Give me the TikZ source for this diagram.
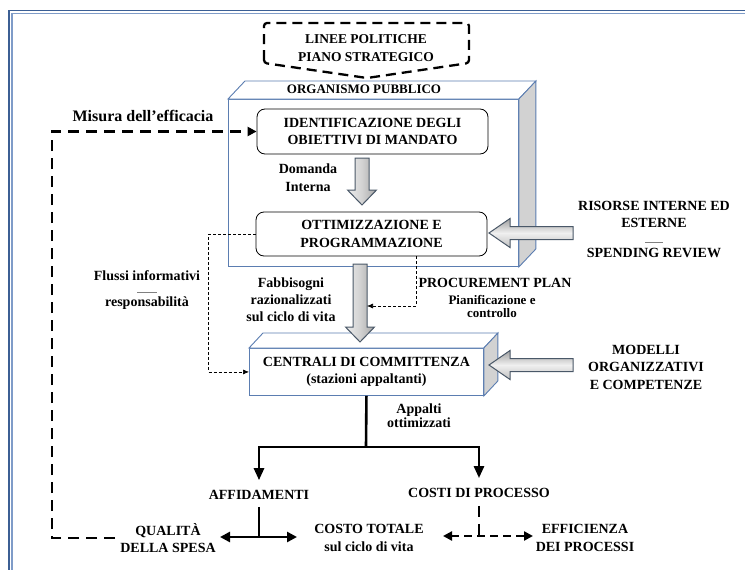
\documentclass[tikz,border=0pt]{standalone}
\usepackage{fontspec}
\setmainfont{Liberation Serif}
\usetikzlibrary{arrows.meta,calc}
\definecolor{frameblue}{HTML}{3C5F94}
\definecolor{framelight}{HTML}{7F9CC8}
\definecolor{boxblue}{HTML}{5B7DB1}
\definecolor{arrowedge}{HTML}{4A5868}
\definecolor{facegray}{HTML}{D2D2D2}
\newcommand\fatdown[2]{%
  \path[fatarr, left color=gray!15, right color=gray!70, middle color=gray!35]
    ($(#1)+(-7,0)$) -- ($(#1)+(7,0)$) -- ($(#2)+(7,-15)$) -- ($(#2)+(14.5,-15)$)
    -- (#2) -- ($(#2)+(-14.5,-15)$) -- ($(#2)+(-7,-15)$) -- cycle;}
\newcommand\fatleft[2]{%
  \path[fatarr, top color=gray!75, bottom color=gray!50, middle color=gray!12]
    ($(#1)+(0,-6.5)$) -- ($(#2)+(21,-6.5)$) -- ($(#2)+(21,-14.5)$) -- (#2)
    -- ($(#2)+(21,14.5)$) -- ($(#2)+(21,6.5)$) -- ($(#1)+(0,6.5)$) -- cycle;}
\begin{document}
\begin{tikzpicture}[x=1pt,y=-1pt,
  lbl/.style={font=\fontsize{14}{17.5}\selectfont\bfseries, align=center, inner sep=0pt},
  fatarr/.style={draw=arrowedge, line width=1pt, line join=miter},
  rbox/.style={draw=black, line width=0.8pt, rounded corners=8pt, fill=white, inner sep=0pt,
    minimum width=231pt, minimum height=45pt, lbl},
  cube/.style={draw=boxblue, line width=0.9pt, fill=white, inner sep=0pt},
  fb/.style={line width=2.4pt, dash pattern=on 11pt off 7pt},
  thindash/.style={line width=0.6pt, dash pattern=on 3pt off 2pt, -{Latex[length=6pt,width=5pt]}},
  tree/.style={line width=2.6pt}
  ]
\useasboundingbox (0,0) rectangle (745,570);
\fill[white] (0,0) rectangle (745,570);
% frame
\draw[frameblue, line width=1.1pt] (9,570) -- (9,10.5) -- (745,10.5);
\draw[framelight, line width=1.1pt] (12,570) -- (12,13.5) -- (745,13.5);

% top dashed box
\node[lbl, font=\fontsize{13.5}{18}\selectfont\bfseries] (linee) at (366,48) {LINEE POLITICHE\\PIANO STRATEGICO};
\draw[line width=2.3pt, dash pattern=on 10pt off 6pt, rounded corners=3pt]
  (264,63) -- (264,23) -- (469,23) -- (469,63) -- (367,78) -- cycle;

% organismo pubblico (3D box)
\node[cube, minimum width=290pt, minimum height=167pt, anchor=north west] (org) at (228,99) {};
\draw[cube] (org.north west) -- ++(17,-18) -- ($(org.north east)+(17,-18)$) -- (org.north east) -- cycle;
\draw[cube, fill=facegray] (org.north east) -- ++(17,-18) -- ($(org.south east)+(17,-18)$) -- (org.south east) -- cycle;
\node[lbl, font=\fontsize{13}{16}\selectfont\bfseries] (orgl) at (364,89) {ORGANISMO PUBBLICO};

\node[rbox] (ident) at (372.5,131.5) {IDENTIFICAZIONE DEGLI\\OBIETTIVI DI MANDATO};
\node[rbox, minimum height=44pt] (ottim) at (371.5,234) {OTTIMIZZAZIONE E\\PROGRAMMAZIONE};

\coordinate (a1s) at (362,158);
\coordinate (a1e) at (362,205);
\fatdown{a1s}{a1e}
\node[lbl] (dom) at (308,177.5) {Domanda\\Interna};

% centrali (3D box)
\node[cube, lbl, minimum width=234pt, minimum height=47pt, anchor=north west] (cent) at (249,348)
  {CENTRALI DI COMMITTENZA\\(stazioni appaltanti)};
\draw[cube] (cent.north west) -- ++(14,-15) -- ($(cent.north east)+(14,-15)$) -- (cent.north east) -- cycle;
\draw[cube, fill=facegray] (cent.north east) -- ++(14,-15) -- ($(cent.south east)+(14,-15)$) -- (cent.south east) -- cycle;

\coordinate (a2s) at (360,264);
\coordinate (a2e) at (360,342);
\fatdown{a2s}{a2e}

% right inputs
\coordinate (r1s) at (573,233);
\coordinate (r1e) at (489,233);
\fatleft{r1s}{r1e}
\coordinate (r2s) at (573,365);
\coordinate (r2e) at (489,365);
\fatleft{r2s}{r2e}

\node[lbl] (ris) at (654,214.5) {RISORSE INTERNE ED\\ESTERNE};
\node[lbl] (spend) at (654,253) {SPENDING REVIEW};
\draw[gray, line width=0.5pt] (645,242) -- (663,242);

\node[lbl] (mod) at (646,367) {MODELLI\\ORGANIZZATIVI\\E COMPETENZE};

% thin dashed flows
\draw[thindash] (ottim.west) -- ++(-47,0) |- (cent.west);
\coordinate (pf) at (367,306);
\draw[thindash] ($(ottim.south west)+(161,0)$) |- (pf);

\node[lbl] (flu) at (147,276) {Flussi informativi};
\draw[gray, line width=0.5pt] (137,292) -- (157,292);
\node[lbl] (resp) at (147,303) {responsabilità};

\node[lbl, font=\fontsize{14}{17}\selectfont\bfseries] (fab) at (291,300) {Fabbisogni\\razionalizzati\\sul ciclo di vita};
\node[lbl] (proc) at (495,283) {PROCUREMENT PLAN};
\node[lbl, font=\fontsize{13}{13}\selectfont\bfseries] (pian) at (492,306) {Pianificazione e\\controllo};

% misura dell'efficacia
\node[lbl, font=\fontsize{16}{19}\selectfont\bfseries] (mis) at (143,116) {Misura dell’efficacia};

% tree
\coordinate (tj) at (366,447);
\node[lbl] (affi) at (259,495) {AFFIDAMENTI};
\node[lbl] (costi) at (479,493) {COSTI DI PROCESSO};
\node[lbl] (qual) at (168,538) {QUALITÀ\\DELLA SPESA};
\node[lbl] (costo) at (369,538) {COSTO TOTALE\\sul ciclo di vita};
\node[lbl] (eff) at (585,538) {EFFICIENZA\\DEI PROCESSI};
\node[lbl, font=\fontsize{14}{14}\selectfont\bfseries] (app) at (419,416) {Appalti\\ottimizzati};

\draw[tree] (cent.south) -- (tj);
\draw[tree, -{Triangle[length=12pt,width=10pt]}] (tj) -| ($(affi.north)+(0,-10)$);
\draw[tree, -{Triangle[length=12pt,width=10pt]}] (tj) -| ($(costi.north)+(0,-10)$);

\coordinate (aj) at (259,537);
\coordinate (dl) at (220,537);
\coordinate (dr) at (297,537);
\draw[tree] ($(affi.south)+(0,7)$) -- (aj);
\draw[tree, {Triangle[length=10pt,width=10pt]}-{Triangle[length=10pt,width=10pt]}] (dl) -- (dr);

\coordinate (cj) at (479,536);
\coordinate (cl) at (443,536);
\coordinate (cr) at (533,536);
\draw[fb] ($(costi.south)+(0,8)$) -- (cj);
\draw[line width=2.4pt, dash pattern=on 8pt off 5pt, {Triangle[length=9pt,width=9pt]}-{Triangle[length=9pt,width=9pt]}] (cl) -- (cr);

% feedback dashed
\coordinate (fbc) at (52,330);
\draw[fb, -{Triangle[length=9pt,width=9pt]}] ($(qual.west)+(-5,0)$) -| (fbc) |- (ident.west);
\end{tikzpicture}
\end{document}
